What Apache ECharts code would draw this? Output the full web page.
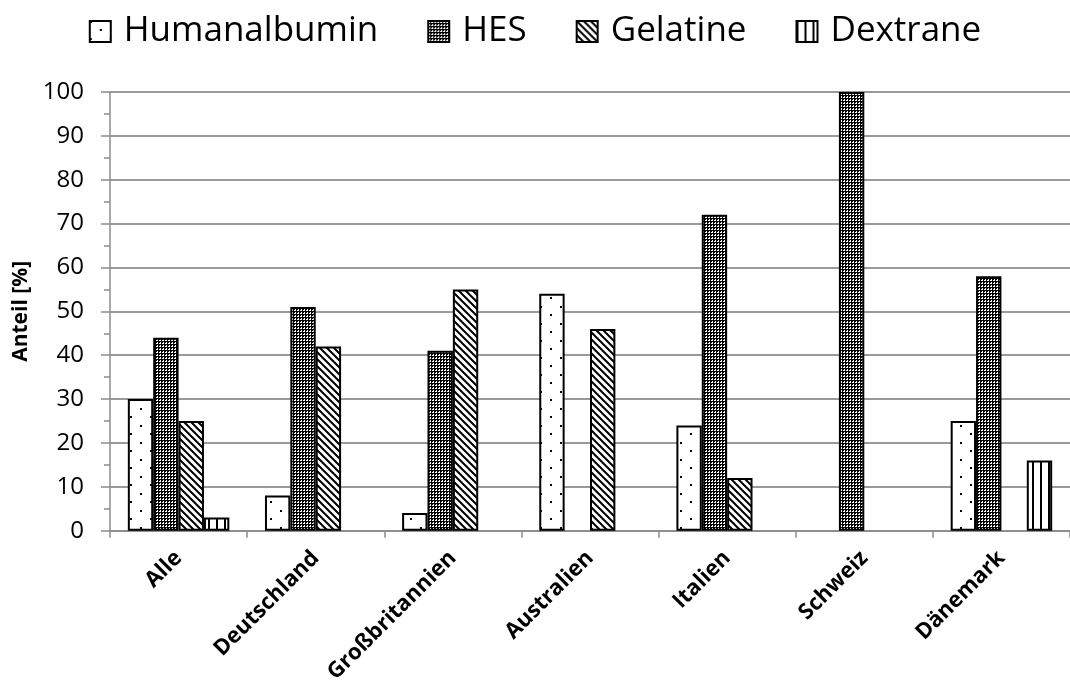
<!DOCTYPE html>
<html>
<head>
<meta charset="utf-8">
<script src="https://cdn.jsdelivr.net/npm/echarts@6/dist/echarts.min.js"></script>
<style>
  html, body { margin: 0; padding: 0; background: #fff; }
  #chart { width: 1070px; height: 686px; }
</style>
</head>
<body>
<div id="chart"></div>
<script>
// Anteil der Volumenersatzmittel je Land (in %)
const categories = ['Alle', 'Deutschland', 'Großbritannien', 'Australien', 'Italien', 'Schweiz', 'Dänemark'];
const humanalbumin = [30, 8, 4, 54, 24, null, 25];
const hes          = [44, 51, 41, null, 72, 100, 58];
const gelatine     = [25, 42, 55, 46, 12, null, null];
const dextrane     = [3, null, null, null, null, null, 16];
const yTicks = { min: 0, max: 100, interval: 10 };

const FONT = '"Open Sans", "Noto Sans", sans-serif';

// Monochrome fill patterns drawn onto small canvases
function makePattern(w, h, draw) {
  const c = document.createElement('canvas');
  c.width = w; c.height = h;
  const ctx = c.getContext('2d');
  ctx.fillStyle = '#fff';
  ctx.fillRect(0, 0, w, h);
  ctx.fillStyle = '#000';
  ctx.strokeStyle = '#000';
  draw(ctx, w, h);
  return { image: c, repeat: 'repeat' };
}

const dotted = makePattern(20, 17, (ctx) => {
  ctx.fillRect(0, 0, 2, 2);
  ctx.fillRect(10, 8, 2, 2);
});

const checker = makePattern(3, 3, (ctx) => {
  ctx.fillRect(0, 0, 3, 3);
  ctx.fillStyle = '#fff';
  ctx.fillRect(0, 0, 2, 2);
  ctx.fillStyle = '#000';
  ctx.fillRect(0, 0, 1, 1);
});

const diagonal = makePattern(7, 7, (ctx, w, h) => {
  ctx.lineWidth = 2;
  ctx.beginPath();
  for (let k = -1; k <= 1; k++) {
    ctx.moveTo(k * w - 1, -1);
    ctx.lineTo(k * w + w + 1, h + 1);
  }
  ctx.stroke();
});

const vertical = makePattern(8, 4, (ctx) => {
  ctx.fillRect(0, 0, 2, 4);
});

function barSeries(name, data, fill) {
  return {
    name: name,
    type: 'bar',
    data: data,
    barGap: '0%',
    barCategoryGap: '26%',
    itemStyle: { color: fill, borderColor: '#000', borderWidth: 2 },
    emphasis: { disabled: true }
  };
}

const chart = echarts.init(document.getElementById('chart'), null, { renderer: 'canvas' });

chart.setOption({
  animation: false,
  backgroundColor: '#fff',
  legend: {
    top: 9,
    left: 'center',
    icon: 'rect',
    itemWidth: 21,
    itemHeight: 21,
    itemGap: 49,
    textStyle: { fontFamily: FONT, fontSize: 35, color: '#000', padding: [0, 0, 0, 8] },
    data: ['Humanalbumin', 'HES', 'Gelatine', 'Dextrane']
  },
  grid: { left: 110, right: -6, top: 92, bottom: 153, containLabel: false },
  xAxis: {
    type: 'category',
    data: categories,
    axisLine: { lineStyle: { color: '#8c8c8c', width: 1.5 } },
    axisTick: { show: true, length: 7, lineStyle: { color: '#8c8c8c', width: 1.5 } },
    axisLabel: {
      interval: 0,
      rotate: 45,
      margin: 24,
      fontFamily: FONT,
      fontWeight: 'bold',
      fontSize: 22,
      color: '#000'
    }
  },
  yAxis: {
    type: 'value',
    min: yTicks.min,
    max: yTicks.max,
    interval: yTicks.interval,
    name: 'Anteil [%]',
    nameLocation: 'middle',
    nameGap: 76,
    nameRotate: 90,
    nameTextStyle: { fontFamily: FONT, fontWeight: 'bold', fontSize: 21, color: '#000' },
    axisLine: { show: true, lineStyle: { color: '#8c8c8c', width: 1.5 } },
    axisTick: { show: true, length: 9, lineStyle: { color: '#8c8c8c', width: 1.5 } },
    minorTick: { show: true, splitNumber: 2, length: 6, lineStyle: { color: '#8c8c8c', width: 1.5 } },
    axisLabel: { margin: 26, fontFamily: FONT, fontSize: 24, color: '#000' },
    splitLine: { show: true, lineStyle: { color: '#999', width: 2 } }
  },
  series: [
    barSeries('Humanalbumin', humanalbumin, dotted),
    barSeries('HES', hes, checker),
    barSeries('Gelatine', gelatine, diagonal),
    barSeries('Dextrane', dextrane, vertical)
  ]
});
</script>
</body>
</html>
